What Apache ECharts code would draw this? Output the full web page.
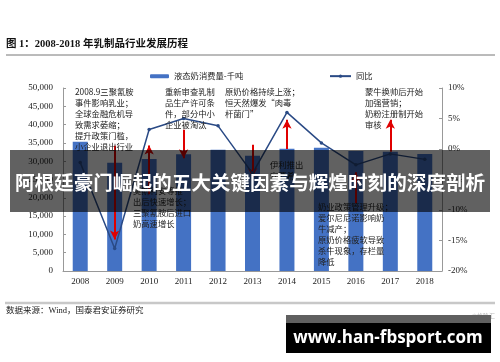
<!DOCTYPE html>
<html>
<head>
<meta charset="utf-8">
<script src="https://cdn.jsdelivr.net/npm/echarts@6/dist/echarts.min.js"></script>
<style>
html, body { margin: 0; padding: 0; background: #fff; }
#container { width: 500px; height: 362px; }
</style>
</head>
<body>
<div id="container"></div>
<script>
// 数据
var years = ['2008', '2009', '2010', '2011', '2012', '2013', '2014', '2015', '2016', '2017', '2018'];
var consumption = [35300, 29600, 30600, 31900, 33100, 31500, 33400, 33700, 32800, 32600, 32000]; // 千吨
var growth = [-2.2, -16.3, 3.2, 5.0, 3.8, -4.0, 6.0, 1.0, -2.6, -0.8, -1.7]; // %
// 红色箭头: [年份, 起点, 终点] (左轴单位)
var arrows = [
    ['2009', 34200, 8600],
    ['2010', 21000, 34300],
    ['2011', 38600, 30800],
    ['2013', 34500, 25700],
    ['2014', 33300, 41300],
    ['2016', 18500, 27000],
    ['2017', 32600, 41300]
];
var notes = [
    [75, 86, '2008.9三聚氰胺\n事件影响乳业；\n全球金融危机导\n致需求萎缩；\n提升政策门槛，\n小企业退出行业'],
    [165, 86, '重新审查乳制\n品生产许可条\n件，部分中小\n企业被淘汰'],
    [225, 86, '原奶价格持续上涨；\n恒天然爆发“肉毒\n杆菌门”'],
    [365, 86, '蒙牛换帅后开始\n加强营销；\n奶粉注册制开始\n审核'],
    [270, 159.5, '伊利推出\n安慕希'],
    [133, 185.5, '莫斯利安等推\n出后快速增长；\n三聚氰胺后进口\n奶高速增长'],
    [318, 201.5, '奶业政策管理升级；\n爱尔尼尼诺影响奶\n牛减产；\n原奶价格疲软导致\n杀牛现象，存栏量\n降低']
];

var serif = "'Liberation Serif', 'Noto Sans CJK SC', serif";
var cjk = "'Noto Sans CJK SC', sans-serif";

var myChart = echarts.init(document.getElementById('container'));

var graphics = [
    {
        type: 'text', left: 6, top: 39, z: 60,
        style: { text: '图 1：2008-2018 年乳制品行业发展历程', font: "bold 10.5px " + serif, fill: '#111' }
    },
    { type: 'line', z: 60, shape: { x1: 6, y1: 55, x2: 495, y2: 55 }, style: { stroke: '#777', lineWidth: 1 } },
    { type: 'line', z: 60, shape: { x1: 5, y1: 303, x2: 495, y2: 303 }, style: { stroke: '#c8c8c8', lineWidth: 2.5 } },
    {
        type: 'text', left: 6, top: 307, z: 60,
        style: { text: '数据来源：Wind，国泰君安证券研究', font: "8.5px " + serif, fill: '#222' }
    },
    {
        type: 'text', left: 472, top: 313, z: 60,
        style: { text: '©格隆汇', font: "6px " + cjk, fill: '#bbb' }
    }
];
notes.forEach(function (n) {
    graphics.push({
        type: 'text', x: n[0], y: n[1], z: 50,
        style: { text: n[2], font: "8.3px " + cjk, fill: '#222', lineHeight: 11, textVerticalAlign: 'top' }
    });
});
// 横幅
graphics.push({ type: 'rect', z: 100, shape: { x: 10, y: 150, width: 480, height: 62 }, style: { fill: 'rgba(0,0,0,0.62)' } });
graphics.push({
    type: 'text', z: 101, x: 250, y: 183,
    style: {
        text: '阿根廷豪门崛起的五大关键因素与辉煌时刻的深度剖析',
        font: "bold 19.6px " + cjk, fill: '#fff', textAlign: 'center', textVerticalAlign: 'middle'
    }
});
// 网址框
graphics.push({ type: 'rect', z: 100, shape: { x: 286, y: 315, width: 205, height: 38 }, style: { fill: '#000' } });
graphics.push({ type: 'rect', z: 101, shape: { x: 286, y: 315, width: 205, height: 8 }, style: { fill: '#606060' } });
graphics.push({
    type: 'text', z: 102, x: 388, y: 338,
    style: {
        text: 'www.han-fbsport.com', font: "bold 17px 'Open Sans', sans-serif",
        fill: '#fff', textAlign: 'center', textVerticalAlign: 'middle'
    }
});

option = {
    backgroundColor: '#fff',
    animation: false,
    grid: { left: 63, right: 58, top: 88, bottom: 91 },
    legend: [{
        data: ['液态奶消费量-千吨'],
        left: 145, top: 67,
        itemWidth: 19, itemHeight: 4, itemGap: 4,
        textStyle: { fontSize: 8.3, fontFamily: cjk, color: '#222' }
    }, {
        data: ['同比'],
        left: 324, top: 67,
        itemWidth: 21, itemHeight: 4,
        textStyle: { fontSize: 8.3, fontFamily: cjk, color: '#222' }
    }],
    xAxis: {
        type: 'category',
        data: years,
        axisLine: { lineStyle: { color: '#999' } },
        axisTick: { inside: true, length: 3, lineStyle: { color: '#999' } },
        axisLabel: { fontSize: 9, fontFamily: serif, color: '#222', margin: 6 }
    },
    yAxis: [{
        type: 'value',
        min: 0, max: 50000, interval: 5000,
        splitLine: { show: false },
        axisLine: { show: true, lineStyle: { color: '#999' } },
        axisTick: { show: true, inside: true, length: 3, lineStyle: { color: '#999' } },
        axisLabel: {
            fontSize: 9, fontFamily: serif, color: '#222', margin: 10,
            formatter: function (v) { return echarts.format.addCommas(v); }
        }
    }, {
        type: 'value',
        min: -20, max: 10, interval: 5,
        splitLine: { show: false },
        axisLine: { show: true, lineStyle: { color: '#999' } },
        axisTick: { show: true, inside: true, length: 3, lineStyle: { color: '#999' } },
        axisLabel: { fontSize: 9, fontFamily: serif, color: '#222', margin: 6, formatter: '{value}%' }
    }],
    series: [{
        name: '液态奶消费量-千吨',
        type: 'bar',
        barWidth: 15,
        itemStyle: { color: '#4472C4' },
        data: consumption,
        markLine: {
            silent: true,
            symbol: ['none', 'arrow'],
            symbolSize: [7, 9],
            label: { show: false },
            lineStyle: { color: '#E00000', width: 2, type: 'solid' },
            data: arrows.map(function (a) {
                return [{ coord: [a[0], a[1]] }, { coord: [a[0], a[2]] }];
            })
        }
    }, {
        name: '同比',
        type: 'line',
        yAxisIndex: 1,
        data: growth,
        symbol: 'circle',
        symbolSize: 3.5,
        z: 5,
        lineStyle: { color: '#2A4A85', width: 1.5 },
        itemStyle: { color: '#2A4A85' }
    }],
    graphic: graphics
};
myChart.setOption(option);
</script>
</body>
</html>
